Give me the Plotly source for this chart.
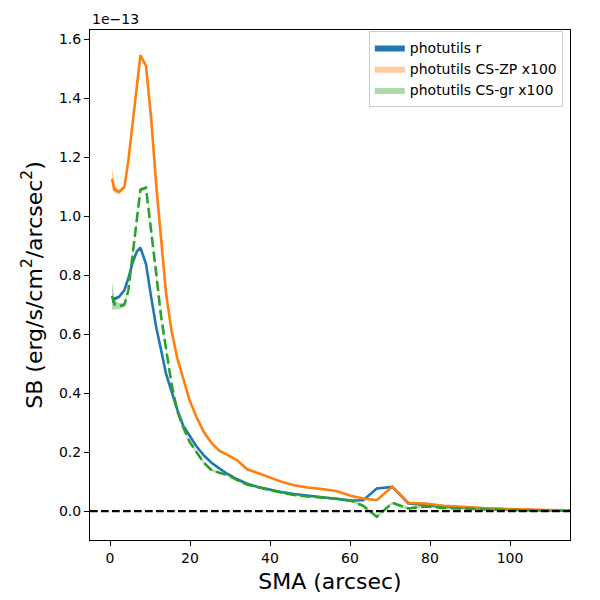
import plotly.graph_objects as go

# SMA sample points (arcsec)
sma = [0.5, 1.2, 2.3, 3.6, 4.6, 5.7, 6.7, 7.6, 9.0, 10.3, 11.6, 12.8, 14.0, 15.4, 16.8,
       18.3, 19.9, 21.6, 23.4, 25.3, 27.3, 29.5, 31.8, 34.3, 37.0, 39.8, 42.8, 46.0,
       49.4, 52.9, 56.5, 60.2, 63.3, 66.7, 70.6, 74.6, 78.8, 83.3, 88.0, 93.0, 98.3,
       103.8, 109.5, 116.0]

# Surface brightness, in units of 1e-13 erg/s/cm^2/arcsec^2
sb_r = [0.715, 0.720, 0.727, 0.750, 0.790, 0.845, 0.880, 0.894, 0.838, 0.725, 0.620,
        0.545, 0.466, 0.405, 0.345, 0.290, 0.255, 0.220, 0.190, 0.165, 0.145, 0.125,
        0.108, 0.093, 0.082, 0.073, 0.065, 0.058, 0.052, 0.047, 0.042, 0.036, 0.037,
        0.077, 0.082, 0.026, 0.020, 0.016, 0.012, 0.009, 0.006, 0.004, 0.002, 0.001]
sb_zp = [1.127, 1.090, 1.083, 1.100, 1.190, 1.320, 1.460, 1.546, 1.510, 1.330, 1.100,
         0.930, 0.740, 0.610, 0.520, 0.450, 0.376, 0.320, 0.270, 0.232, 0.205, 0.190,
         0.172, 0.142, 0.128, 0.116, 0.100, 0.088, 0.080, 0.075, 0.068, 0.052, 0.043,
         0.037, 0.083, 0.028, 0.026, 0.018, 0.013, 0.010, 0.007, 0.005, 0.003, 0.002]
sb_gr = [0.730, 0.700, 0.695, 0.700, 0.750, 0.870, 0.980, 1.090, 1.097, 0.955, 0.800,
         0.657, 0.545, 0.430, 0.340, 0.285, 0.235, 0.200, 0.165, 0.140, 0.130, 0.122,
         0.105, 0.090, 0.080, 0.072, 0.063, 0.055, 0.050, 0.046, 0.042, 0.035, 0.018,
         -0.019, 0.028, 0.009, 0.016, 0.011, 0.008, 0.006, 0.004, 0.003, 0.001, 0.001]

# Uncertainty half-widths (same units)
err_r = [0.010, 0.006, 0.004, 0.003, 0.003, 0.003, 0.003, 0.003, 0.003, 0.003, 0.003,
         0.003, 0.003, 0.002, 0.002, 0.002, 0.002, 0.002, 0.002, 0.002, 0.002, 0.002,
         0.002, 0.002, 0.002, 0.002, 0.002, 0.002, 0.002, 0.002, 0.002, 0.002, 0.002,
         0.002, 0.002, 0.002, 0.002, 0.002, 0.002, 0.002, 0.002, 0.002, 0.002, 0.002]
err_zp = [0.035, 0.012, 0.008, 0.006, 0.005, 0.005, 0.005, 0.005, 0.005, 0.005, 0.005,
          0.004, 0.004, 0.004, 0.004, 0.004, 0.004, 0.004, 0.003, 0.003, 0.003, 0.003,
          0.003, 0.003, 0.003, 0.003, 0.003, 0.003, 0.003, 0.003, 0.003, 0.003, 0.003,
          0.003, 0.003, 0.003, 0.003, 0.003, 0.003, 0.003, 0.003, 0.003, 0.003, 0.003]
err_gr = [0.048, 0.015, 0.010, 0.007, 0.006, 0.006, 0.006, 0.006, 0.006, 0.006, 0.005,
          0.005, 0.005, 0.005, 0.005, 0.004, 0.004, 0.004, 0.004, 0.004, 0.004, 0.004,
          0.004, 0.004, 0.004, 0.004, 0.004, 0.004, 0.004, 0.004, 0.004, 0.004, 0.004,
          0.004, 0.004, 0.004, 0.004, 0.004, 0.004, 0.004, 0.004, 0.004, 0.004, 0.004]

names = ["photutils r", "photutils CS-ZP x100", "photutils CS-gr x100"]
line_colors = ["#1f77b4", "#ff7f0e", "#2ca02c"]
fill_colors = ["rgba(31,119,180,1.0)", "rgba(255,127,14,0.4)", "rgba(44,160,44,0.4)"]
dashes = ["solid", "solid", "10.3px,4.4px"]

FONT = "DejaVu Sans, Liberation Sans, sans-serif"

fig = go.Figure()
for vals, errs, name, lc, fc, dash in zip([sb_r, sb_zp, sb_gr], [err_r, err_zp, err_gr],
                                          names, line_colors, fill_colors, dashes):
    upper = [v + e for v, e in zip(vals, errs)]
    lower = [v - e for v, e in zip(vals, errs)]
    fig.add_trace(go.Scatter(
        x=sma + sma[::-1], y=upper + lower[::-1], fill="toself", fillcolor=fc,
        line=dict(width=0, color=fc), mode="lines", name=name, hoverinfo="skip"))
    fig.add_trace(go.Scatter(
        x=sma, y=vals, mode="lines", line=dict(color=lc, width=2.6, dash=dash),
        showlegend=False))

fig.add_shape(type="line", xref="paper", yref="y", x0=0, x1=1, y0=0, y1=0,
              line=dict(color="black", width=2.1, dash="7.7px,3.3px"))

axis_common = dict(showline=True, linecolor="black", linewidth=1.1, mirror=True,
                   ticks="outside", ticklen=5, tickwidth=1.1, tickcolor="black",
                   showgrid=False, zeroline=False, automargin=False,
                   tickfont=dict(family=FONT, size=14, color="black"))

fig.update_layout(
    width=600, height=600,
    margin=dict(l=90, r=30, t=30, b=60, autoexpand=False),
    paper_bgcolor="white", plot_bgcolor="white",
    font=dict(family=FONT, color="black"),
    xaxis=dict(range=[-5, 115], tickvals=[0, 20, 40, 60, 80, 100],
               title=dict(text="SMA (arcsec)", font=dict(family=FONT, size=22), standoff=8),
               **axis_common),
    yaxis=dict(range=[-0.098, 1.632], tickvals=[0, 0.2, 0.4, 0.6, 0.8, 1.0, 1.2, 1.4, 1.6],
               tickformat=".1f",
               title=dict(text="SB (erg/s/cm<sup>2</sup>/arcsec<sup>2</sup>)",
                          font=dict(family=FONT, size=22), standoff=10),
               **axis_common),
    legend=dict(x=0.985, y=0.998, xanchor="right", yanchor="top",
                bgcolor="rgba(255,255,255,0.8)", bordercolor="#cccccc", borderwidth=1,
                font=dict(family=FONT, size=14, color="black")),
    showlegend=True,
)

fig.add_annotation(text="1e\u221213", xref="paper", yref="paper", x=0, y=1,
                   xanchor="left", yanchor="bottom", showarrow=False, yshift=1,
                   font=dict(family=FONT, size=14, color="black"))

fig.write_html("out.html", config={"displayModeBar": False},
               post_script="document.body.style.margin='0';document.body.style.overflow='hidden';")
